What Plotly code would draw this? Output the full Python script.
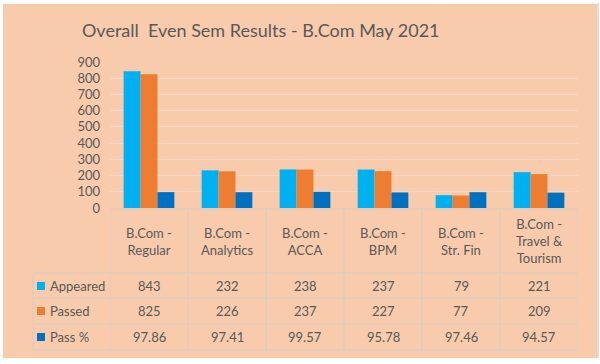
import plotly.graph_objects as go

categories = ["B.Com - Regular", "B.Com - Analytics", "B.Com - ACCA",
              "B.Com - BPM", "B.Com - Str. Fin", "B.Com - Travel & Tourism"]
header_labels = ["B.Com -<br>Regular", "B.Com -<br>Analytics", "B.Com -<br>ACCA",
                 "B.Com -<br>BPM", "B.Com -<br>Str. Fin", "B.Com -<br>Travel &<br>Tourism"]
appeared = [843, 232, 238, 237, 79, 221]
passed = [825, 226, 237, 227, 77, 209]
pass_pct = [97.86, 97.41, 99.57, 95.78, 97.46, 94.57]
series_names = ["Appeared", "Passed", "Pass %"]
y_ticks = [0, 100, 200, 300, 400, 500, 600, 700, 800, 900]

colors = ["#00B0F0", "#ED7D31", "#0070C0"]
PEACH = "#F8CBAD"
GRID = "#F3D8C7"
BORDER = "#E2CBBE"
TXT = "#595959"
FONT = "Lato"

W, H = 600, 364
L, R, T, B = 110, 578, 62, 208  # plot area in px


def px(x):
    return (x - L) / (R - L)


def py(y):
    return (B - y) / (B - T)


fig = go.Figure()
idx = list(range(len(categories)))
for name, vals, c in zip(series_names, [appeared, passed, pass_pct], colors):
    fig.add_trace(go.Bar(x=idx, y=vals, name=name, marker=dict(color=c, line=dict(width=0))))

shapes = []
# peach background
shapes.append(dict(type="rect", xref="paper", yref="paper", x0=px(3), x1=px(597), y0=py(358), y1=py(4),
                   fillcolor=PEACH, line=dict(width=0), layer="below"))
shapes.append(dict(type="line", xref="paper", yref="paper", x0=px(598), x1=px(598), y0=py(358), y1=py(3),
                   line=dict(color="#DDDDDD", width=2), layer="below"))

# table lines
row_lines = [273, 298, 324, 350]
for yy in row_lines:
    shapes.append(dict(type="line", xref="paper", yref="paper", x0=px(33), x1=px(R), y0=py(yy), y1=py(yy),
                       line=dict(color=BORDER, width=1.5)))
shapes.append(dict(type="line", xref="paper", yref="paper", x0=px(L), x1=px(R), y0=py(B + 1), y1=py(B + 1),
                   line=dict(color=BORDER, width=1.5)))
for i in range(len(categories) + 1):
    shapes.append(dict(type="line", xref="x", yref="paper", x0=i - 0.5, x1=i - 0.5, y0=py(B + 1), y1=py(350),
                       line=dict(color=BORDER, width=1.5)))
shapes.append(dict(type="line", xref="paper", yref="paper", x0=px(33), x1=px(33), y0=py(273), y1=py(350),
                   line=dict(color=BORDER, width=1.5)))

annotations = []
annotations.append(dict(text="Overall  Even Sem Results - B.Com May 2021", xref="paper", yref="paper",
                        x=px(261), y=py(30), xanchor="center", yanchor="middle", showarrow=False,
                        font=dict(family=FONT, size=18, color=TXT)))
for i, lab in enumerate(header_labels):
    annotations.append(dict(text=lab, xref="x", yref="paper", x=i, y=py(241), xanchor="center",
                            yanchor="middle", showarrow=False, font=dict(family=FONT, size=13, color=TXT)))

row_centers = [286, 311, 337]
row_vals = [[str(v) for v in appeared], [str(v) for v in passed], [f"{v:.2f}" for v in pass_pct]]
for r, (name, c, yc, vals) in enumerate(zip(series_names, colors, row_centers, row_vals)):
    shapes.append(dict(type="rect", xref="paper", yref="paper", x0=px(37), x1=px(45), y0=py(yc + 4),
                       y1=py(yc - 4), fillcolor=c, line=dict(width=0)))
    annotations.append(dict(text=name, xref="paper", yref="paper", x=px(48), y=py(yc), xanchor="left",
                            yanchor="middle", showarrow=False, font=dict(family=FONT, size=13, color=TXT)))
    for i, v in enumerate(vals):
        annotations.append(dict(text=v, xref="x", yref="paper", x=i, y=py(yc), xanchor="center",
                                yanchor="middle", showarrow=False, font=dict(family=FONT, size=13, color=TXT)))

fig.update_layout(
    width=W, height=H,
    margin=dict(l=L, r=W - R, t=T, b=H - B, pad=0),
    paper_bgcolor="white",
    plot_bgcolor="rgba(0,0,0,0)",
    barmode="group", bargap=0.35, bargroupgap=0,
    showlegend=False,
    shapes=shapes,
    annotations=annotations,
    xaxis=dict(range=[-0.5, 5.5], showticklabels=False, showgrid=False, zeroline=False, showline=False,
               ticks=""),
    yaxis=dict(range=[0, 900], tickvals=y_ticks, showgrid=True, gridcolor=GRID, gridwidth=1,
               zeroline=False, showline=False, ticks="", ticklabelstandoff=9,
               tickfont=dict(family=FONT, size=13, color=TXT)),
)

fig.write_html("out.html", config={"displayModeBar": False},
               post_script="document.body.style.margin='0';document.body.style.overflow='hidden';")
